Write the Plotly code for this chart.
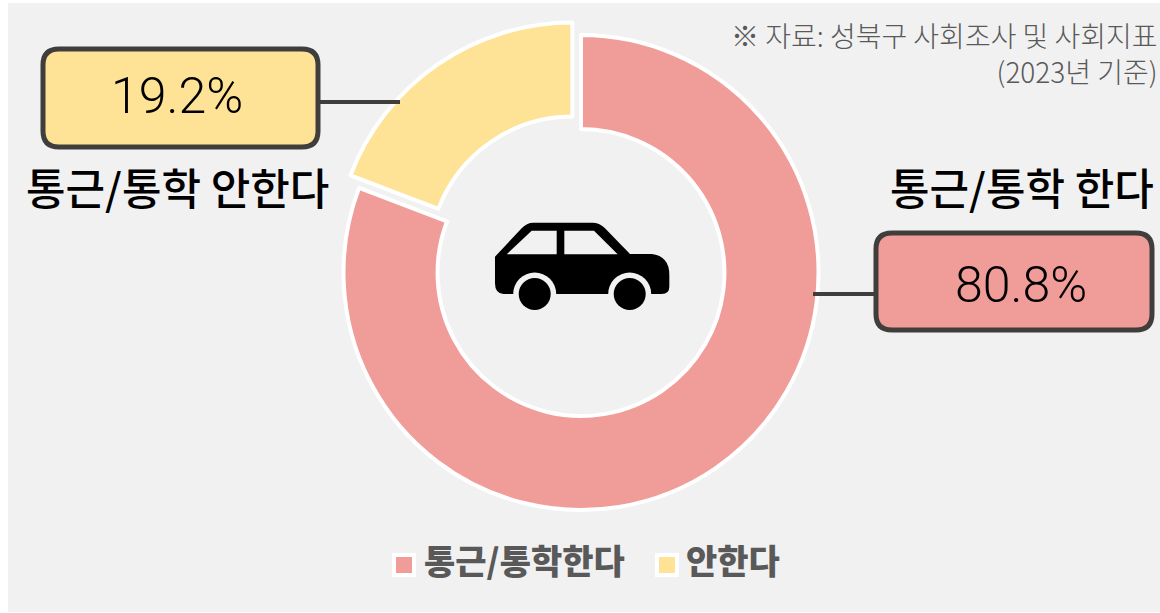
import plotly.graph_objects as go

categories = ["통근/통학한다", "안한다"]
values = [80.8, 19.2]
value_labels = ["80.8%", "19.2%"]
callout_labels = ["통근/통학 한다", "통근/통학 안한다"]
colors = ["#F09C99", "#FEE397"]
source_lines = ["※ 자료: 성북구 사회조사 및 사회지표", "(2023년 기준)"]

W, H = 1160, 613
BG = "#F1F1F1"
DARK = "#403E3C"
KR = "Noto Sans CJK KR"


def px(x):
    return x / W


def py(y):
    return 1 - y / H


def rrect(x0, y0, x1, y1, r):
    pts = [
        ("M", x0 + r, y0), ("L", x1 - r, y0), ("Q", x1, y0, x1, y0 + r),
        ("L", x1, y1 - r), ("Q", x1, y1, x1 - r, y1), ("L", x0 + r, y1),
        ("Q", x0, y1, x0, y1 - r), ("L", x0, y0 + r), ("Q", x0, y0, x0 + r, y0),
    ]
    return to_path(pts)


def to_path(cmds):
    out = []
    for c in cmds:
        vals = c[1:]
        coords = [f"{px(vals[i]):.5f},{py(vals[i + 1]):.5f}" for i in range(0, len(vals), 2)]
        out.append(c[0] + " ".join(coords))
    return " ".join(out) + " Z"


def car(cmds):
    # icon outline is sketched in a local 3x grid anchored at (480, 200)
    res = []
    for c in cmds:
        v = c[1:]
        conv = []
        for i in range(0, len(v), 2):
            conv += [480 + v[i] / 3, 200 + v[i + 1] / 3]
        res.append((c[0], *conv))
    return to_path(res)


R = 237.5
PULL = 0.064
half = R * (1 + PULL)
cx, cy = 581, 272.5

fig = go.Figure(go.Pie(
    labels=categories,
    values=values,
    hole=0.604,
    sort=False,
    direction="clockwise",
    rotation=0,
    pull=[0, PULL],
    textinfo="none",
    hoverinfo="label+percent",
    showlegend=False,
    marker=dict(colors=colors, line=dict(color="white", width=4)),
    domain=dict(x=[px(cx - half), px(cx + half)], y=[py(cy + half), py(cy - half)]),
))

shapes = [
    dict(type="rect", xref="paper", yref="paper", x0=px(8), x1=1, y0=py(612), y1=py(3),
         fillcolor=BG, line_width=0, layer="below"),
    dict(type="line", xref="paper", yref="paper", x0=px(319), x1=px(400), y0=py(102), y1=py(102),
         line=dict(color=DARK, width=4)),
    dict(type="line", xref="paper", yref="paper", x0=px(813), x1=px(876), y0=py(294), y1=py(294),
         line=dict(color=DARK, width=4)),
    dict(type="path", xref="paper", yref="paper", path=rrect(43, 49, 318, 147, 16),
         fillcolor=colors[1], line=dict(color=DARK, width=5)),
    dict(type="path", xref="paper", yref="paper", path=rrect(876, 233, 1152, 330, 16),
         fillcolor=colors[0], line=dict(color=DARK, width=5)),
    # legend swatches
    dict(type="rect", xref="paper", yref="paper", x0=px(394), x1=px(414), y0=py(575), y1=py(555),
         fillcolor=colors[0], line=dict(color="white", width=4)),
    dict(type="rect", xref="paper", yref="paper", x0=px(657), x1=px(677), y0=py(575), y1=py(555),
         fillcolor=colors[1], line=dict(color="white", width=4)),
    # car icon
    dict(type="path", xref="paper", yref="paper", fillcolor="black", line_width=0,
         path=car([("M", 45, 170), ("L", 125, 85), ("Q", 140, 68, 160, 68), ("L", 340, 68),
                   ("Q", 362, 70, 375, 85), ("L", 450, 162), ("L", 515, 162),
                   ("Q", 568, 168, 568, 225), ("L", 568, 260), ("Q", 568, 282, 545, 282),
                   ("L", 70, 282), ("Q", 45, 280, 45, 250)])),
    dict(type="path", xref="paper", yref="paper", fillcolor=BG, line_width=0,
         path=car([("M", 80, 163), ("L", 155, 92), ("L", 230, 92), ("L", 230, 163)])),
    dict(type="path", xref="paper", yref="paper", fillcolor=BG, line_width=0,
         path=car([("M", 253, 92), ("L", 342, 92), ("L", 413, 163), ("L", 253, 163)])),
]
for wx in (534.7, 629.7):
    shapes.append(dict(type="circle", xref="paper", yref="paper", x0=px(wx - 21.5), x1=px(wx + 21.5),
                       y0=py(294 + 21.5), y1=py(294 - 21.5), fillcolor=BG, line_width=0))
    shapes.append(dict(type="circle", xref="paper", yref="paper", x0=px(wx - 16), x1=px(wx + 16),
                       y0=py(294 + 16), y1=py(294 - 16), fillcolor="black", line_width=0))


def note(x, y, text, size, color="black", anchor="center", weight=400, family=KR, align="center"):
    return dict(x=px(x), y=py(y), xref="paper", yref="paper", text=text, showarrow=False,
                xanchor=anchor, yanchor="middle", align=align,
                font=dict(family=family, size=size, color=color, weight=weight))


annotations = [
    note(177, 96, value_labels[1], 50, family="Roboto", weight=300),
    note(1021, 285, value_labels[0], 50, family="Roboto", weight=300),
    note(177, 186, callout_labels[1], 43, family="Noto Sans CJK KR Medium, Noto Sans CJK KR"),
    note(1022, 186, callout_labels[0], 43, family="Noto Sans CJK KR Medium, Noto Sans CJK KR"),
    note(1160, 53, "<br>".join(source_lines), 28, color="#595959", anchor="right", weight=300, align="right"),
    note(422, 559, categories[0], 34, color="#595959", anchor="left", weight=900),
    note(684, 559, categories[1], 34, color="#595959", anchor="left", weight=900),
]

fig.update_layout(
    width=W, height=H, autosize=False,
    margin=dict(l=0, r=0, t=0, b=0),
    paper_bgcolor="white",
    shapes=shapes,
    annotations=annotations,
    showlegend=False,
)
fig.write_html("out.html", config=dict(displayModeBar=False),
               post_script="document.body.style.margin='0';")
